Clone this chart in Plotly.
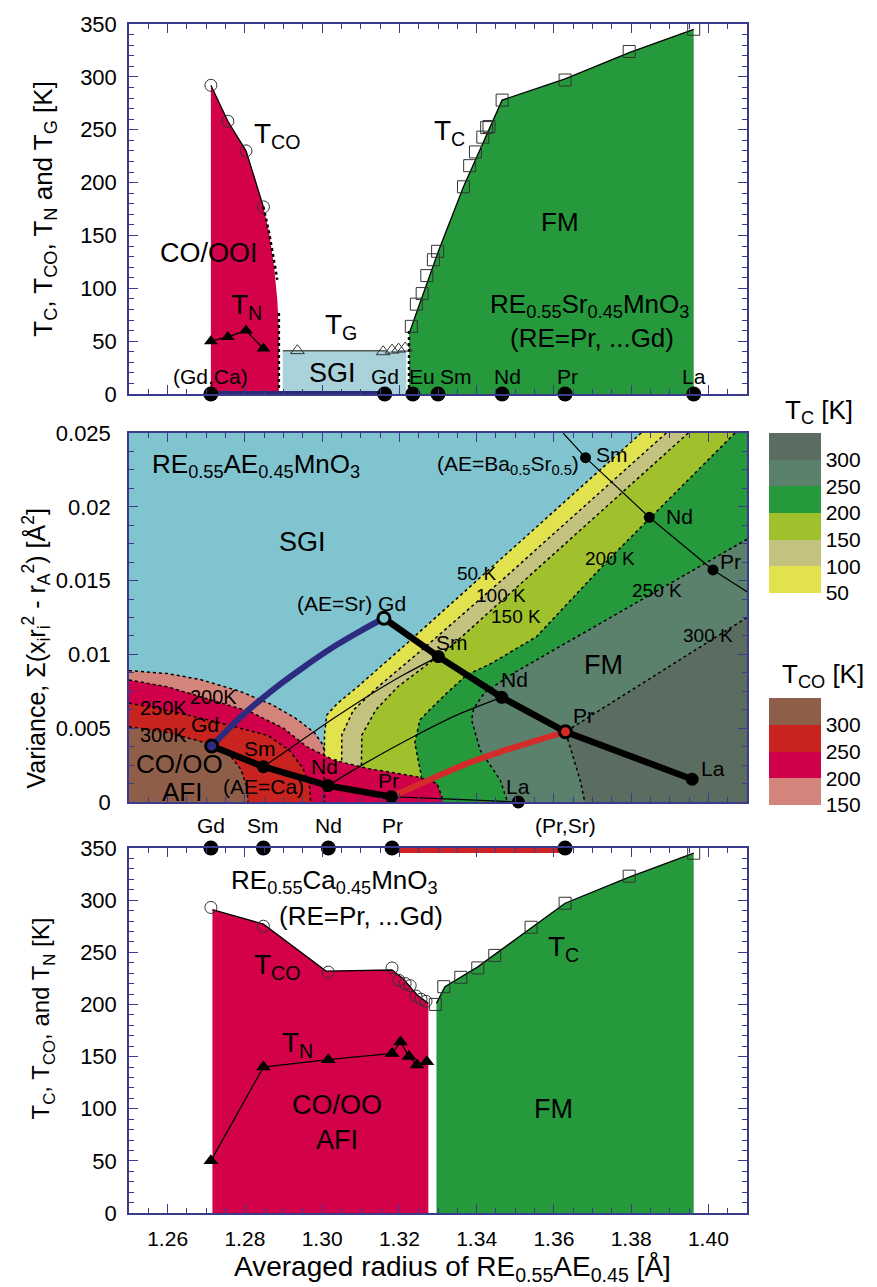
import plotly.graph_objects as go

FONT = "Liberation Sans, Arial, Helvetica, sans-serif"
X_MIN, X_MAX = 1.25, 1.41

# ---------------- TOP PANEL DATA (RE0.55Sr0.45MnO3, Gd/Ca) ----------------
top_tco_x = [1.2712, 1.2756, 1.2803, 1.2848]
top_tco_y = [292, 258, 230, 177]
top_tco_dot_x = [1.2848, 1.2863, 1.2876, 1.2884]
top_tco_dot_y = [177, 152, 125, 108]
top_tn_x = [1.2712, 1.2756, 1.2803, 1.2848]
top_tn_y = [50, 54, 60, 43]
top_tg_x = [1.2936, 1.3158, 1.3181, 1.3198, 1.3215]
top_tg_y = [41, 40, 41.5, 42.5, 43.5]
top_tc_x = [1.3231, 1.3244, 1.3259, 1.3271, 1.3288, 1.3299, 1.3366, 1.3382,
            1.3397, 1.3416, 1.3426, 1.3432, 1.3466, 1.3629, 1.3795, 1.3962]
top_tc_y = [64, 85, 95, 112, 127, 135, 196, 216, 229, 243, 252, 253, 278, 297, 324, 345]
top_tc_line_x = [1.3225, 1.3300, 1.3366, 1.3466, 1.3629, 1.3795, 1.3962]
top_tc_line_y = [57, 134, 196, 278, 298, 323, 345]
top_co_fill_x = [1.2712, 1.2712, 1.2756, 1.2803, 1.2848, 1.2863, 1.2876, 1.2884, 1.2888, 1.2888]
top_co_fill_y = [0, 292, 258, 230, 177, 152, 120, 89, 60, 0]
top_sgi_x = [1.2898, 1.2898, 1.3218, 1.3218]
top_sgi_y = [0, 41, 41, 0]
top_tg_line_x = [1.2898, 1.3165]
top_tg_line_y = [41, 41]
top_co_edge_x = [1.2888, 1.2888]
top_co_edge_y = [0, 78]
top_fm_edge_x = [1.3225, 1.3225]
top_fm_edge_y = [0, 62]
top_ref_x = [1.2712, 1.3162, 1.3235, 1.3300, 1.3466, 1.3629, 1.3962]
top_ref_lab = ["(Gd,Ca)", "Gd", "Eu", "Sm", "Nd", "Pr", "La"]
top_ref_lab_x = [1.2712, 1.3162, 1.3259, 1.3347, 1.3479, 1.3635, 1.3962]
top_sgi_bar_x = [1.2712, 1.3162]

# ---------------- MIDDLE PANEL DATA (variance map) ----------------
sr_x = [1.3160, 1.3301, 1.3465, 1.3630, 1.3958]
sr_v = [0.01245, 0.00985, 0.00709, 0.00476, 0.00154]
ca_x = [1.2714, 1.2848, 1.3015, 1.3179]
ca_v = [0.00379, 0.00239, 0.00111, 0.00036]
ca_la_x = [1.3179, 1.3508]
ca_la_v = [0.00036, 0.0]
basr_x = [1.3682, 1.3847, 1.4012]
basr_v = [0.02333, 0.01929, 0.01572]
basr_line_x = [1.3624, 1.3682, 1.3847, 1.4012, 1.4100]
basr_line_v = [0.0250, 0.02333, 0.01929, 0.01572, 0.01425]
gd_mix_x = [1.2714, 1.2790, 1.2870, 1.2950, 1.3035, 1.3100, 1.3160]
gd_mix_v = [0.00379, 0.00578, 0.00755, 0.00910, 0.01060, 0.01160, 0.01245]
pr_mix_x = [1.3179, 1.3230, 1.3290, 1.3370, 1.3461, 1.3550, 1.3630]
pr_mix_v = [0.00036, 0.00095, 0.00165, 0.00255, 0.00340, 0.00412, 0.00476]
sm_mix_x = [1.2848, 1.2940, 1.3029, 1.3120, 1.3210, 1.3301]
sm_mix_v = [0.00239, 0.00405, 0.00565, 0.00720, 0.00860, 0.00985]
nd_mix_x = [1.3015, 1.3110, 1.3236, 1.3350, 1.3465]
nd_mix_v = [0.00111, 0.00260, 0.00442, 0.00590, 0.00709]

# T_C iso-lines (each listed from the top/right edge downwards)
tc_line_x = [
    [1.3826, 1.3405, 1.3208, 1.3092, 1.3040, 1.3012, 1.3006, 1.3006],
    [1.3891, 1.3468, 1.3266, 1.3145, 1.3081, 1.3051, 1.3050],
    [1.3948, 1.3527, 1.3331, 1.3196, 1.3139, 1.3103, 1.3100],
    [1.4069, 1.3745, 1.3555, 1.3439, 1.3374, 1.3323, 1.3278, 1.3253, 1.3240, 1.3255, 1.3265],
    [1.4100, 1.3867, 1.3700, 1.3500, 1.3420, 1.3392, 1.3387, 1.3409, 1.3461, 1.3480],
    [1.4100, 1.3630, 1.3668, 1.3680],
]
tc_line_v = [
    [0.0250, 0.01509, 0.01048, 0.00781, 0.00669, 0.00589, 0.00454, 0.0],
    [0.0250, 0.01509, 0.01048, 0.00781, 0.00623, 0.00454, 0.0],
    [0.0250, 0.01509, 0.01048, 0.00781, 0.00624, 0.00454, 0.0],
    [0.0250, 0.01651, 0.01120, 0.00940, 0.00860, 0.00738, 0.00623, 0.00556, 0.00400, 0.00200, 0.0],
    [0.0178, 0.01429, 0.01180, 0.00880, 0.00740, 0.00630, 0.00556, 0.00352, 0.00149, 0.0],
    [0.0125, 0.00476, 0.00149, 0.0],
]
tc_colors = ["#e2e14e", "#c4c27f", "#a1c12c", "#25993c", "#5b806c", "#5b6c61"]
tc_lab = ["50 K", "100 K", "150 K", "200 K", "250 K", "300 K"]
tc_lab_x = [1.3400, 1.3462, 1.3502, 1.3745, 1.3867, 1.4000]
tc_lab_v = [0.01545, 0.01402, 0.01258, 0.01651, 0.01436, 0.01131]

# T_CO iso-lines (from the left edge down to the bottom axis)
co_line_x = [
    [1.2500, 1.2600, 1.2684, 1.2787, 1.2870, 1.2930, 1.2980, 1.3004, 1.3006],
    [1.2500, 1.2600, 1.2684, 1.2813, 1.2900, 1.2960, 1.3029, 1.3115, 1.3245, 1.3297, 1.3310, 1.3312],
    [1.2500, 1.2600, 1.2700, 1.2790, 1.2860, 1.2915, 1.2950, 1.2968, 1.2970],
    [1.2500, 1.2600, 1.2700, 1.2760, 1.2790, 1.2805, 1.2808],
]
co_line_v = [
    [0.0089, 0.0087, 0.0083, 0.0075, 0.0066, 0.0057, 0.0047, 0.0038, 0.0],
    [0.00827, 0.0078, 0.00714, 0.00612, 0.0050, 0.00375, 0.00285, 0.00228, 0.00171, 0.00127, 0.00036, 0.0],
    [0.0067, 0.0062, 0.0056, 0.0050, 0.0045, 0.0035, 0.0023, 0.0010, 0.0],
    [0.0051, 0.0047, 0.0040, 0.0032, 0.0022, 0.0010, 0.0],
]
co_colors = ["#d4857b", "#cf0049", "#c8231f", "#8f5e49"]
co_lab = ["200K", "250K", "300K"]
co_lab_x = [1.2718, 1.2589, 1.2589]
co_lab_v = [0.00713, 0.00635, 0.00454]

# ---------------- BOTTOM PANEL DATA (RE0.55Ca0.45MnO3) ----------------
bot_tco_x = [1.2712, 1.2848, 1.3016, 1.3181, 1.3199, 1.3215, 1.3228, 1.3243, 1.3256, 1.3269]
bot_tco_y = [293, 275, 231, 235, 223, 220, 218, 208, 205, 203]
bot_tco_line_x = [1.2716, 1.2848, 1.3010, 1.3181, 1.3209, 1.3246, 1.3275]
bot_tco_line_y = [291, 277, 232, 233, 225, 209, 201]
bot_tn_x = [1.2712, 1.2848, 1.3016, 1.3181, 1.3203, 1.3225, 1.3246, 1.3271]
bot_tn_y = [50, 140, 147, 153, 164, 150, 142, 145]
bot_tc_x = [1.3293, 1.3315, 1.3359, 1.3403, 1.3447, 1.3541, 1.3629, 1.3795, 1.3962]
bot_tc_y = [200, 217, 226, 235, 247, 274, 297, 323, 345]
bot_tc_line_x = [1.3296, 1.3318, 1.3403, 1.3447, 1.3541, 1.3629, 1.3795, 1.3962]
bot_tc_line_y = [201, 217, 236, 248, 273, 297, 322, 345]
bot_ref_x = [1.2712, 1.2848, 1.3016, 1.3181, 1.3629]
bot_ref_lab = ["Gd", "Sm", "Nd", "Pr", "(Pr,Sr)"]
bot_sr_bar_x = [1.3181, 1.3629]

# colour bars
cb_tc_vals = [50, 100, 150, 200, 250, 300, 350]
cb_co_vals = [150, 200, 250, 300, 350]

fig = go.Figure()

def add(x, y, ax, **kw):
    kw.setdefault("showlegend", False)
    kw.setdefault("hoverinfo", "skip")
    fig.add_trace(go.Scatter(x=x, y=y, xaxis=ax[0], yaxis=ax[1], **kw))

def fill(x, y, ax, color):
    add(x, y, ax, mode="lines", fill="toself", fillcolor=color, line=dict(width=0, color=color))

TOP, MID, BOT = ("x", "y"), ("x2", "y2"), ("x3", "y3")

# ---------- top panel ----------
fill(top_co_fill_x, top_co_fill_y, TOP, "#d3004a")
fill(top_sgi_x, top_sgi_y, TOP, "#a9d2da")
fill([top_tc_line_x[0]] + top_tc_line_x + [top_tc_line_x[-1]], [0] + top_tc_line_y + [0], TOP, "#25993c")
add(top_tg_line_x, top_tg_line_y, TOP, mode="lines", line=dict(color="#555555", width=1.5))
add(top_tco_x, top_tco_y, TOP, mode="lines", line=dict(color="black", width=1.3))
add(top_tco_dot_x, top_tco_dot_y, TOP, mode="lines", line=dict(color="black", width=2.5, dash="dot"))
add(top_co_edge_x, top_co_edge_y, TOP, mode="lines", line=dict(color="black", width=2.5, dash="dot"))
add(top_fm_edge_x, top_fm_edge_y, TOP, mode="lines", line=dict(color="black", width=2.5, dash="dot"))
add(top_tc_line_x, top_tc_line_y, TOP, mode="lines", line=dict(color="black", width=1.3))
add(top_tn_x, top_tn_y, TOP, mode="lines+markers", line=dict(color="black", width=1.3),
    marker=dict(symbol="triangle-up", size=12, color="black"))
add(top_tco_x, top_tco_y, TOP, mode="markers",
    marker=dict(symbol="circle-open", size=12, color="#333333", line=dict(width=1)))
add(top_tg_x, top_tg_y, TOP, mode="markers",
    marker=dict(symbol="triangle-up-open", size=12, color="#333333", line=dict(width=1)))
add(top_tc_x, top_tc_y, TOP, mode="markers", cliponaxis=False,
    marker=dict(symbol="square-open", size=12, color="#333333", line=dict(width=1)))
add(top_sgi_bar_x, [0, 0], TOP, mode="lines", cliponaxis=False, line=dict(color="#2b2a78", width=6))
add(top_ref_x, [0] * len(top_ref_x), TOP, mode="markers", cliponaxis=False,
    marker=dict(size=15, color="black"))

# ---------- middle panel ----------
for lx, lv, col in zip(tc_line_x, tc_line_v, tc_colors):
    fill(lx + [X_MAX, X_MAX], lv + [0.0, lv[0]], MID, col)
for lx, lv in zip(tc_line_x, tc_line_v):
    add(lx, lv, MID, mode="lines", line=dict(color="black", width=1.5, dash="dot"))
for lx, lv, col in zip(co_line_x, co_line_v, co_colors):
    fill([X_MIN] + lx + [X_MIN], [0.0] + lv + [0.0], MID, col)
for lx, lv in zip(co_line_x, co_line_v):
    add(lx, lv, MID, mode="lines", line=dict(color="black", width=1.5, dash="dot"))
add(sm_mix_x, sm_mix_v, MID, mode="lines", line=dict(color="black", width=1.2, shape="spline"))
add(nd_mix_x, nd_mix_v, MID, mode="lines", line=dict(color="black", width=1.2, shape="spline"))
add(ca_la_x, ca_la_v, MID, mode="lines", cliponaxis=False, line=dict(color="black", width=1.2))
add(basr_line_x, basr_line_v, MID, mode="lines", line=dict(color="black", width=1.2))
add(gd_mix_x, gd_mix_v, MID, mode="lines", line=dict(color="#2d2b80", width=6, shape="spline"))
add(pr_mix_x, pr_mix_v, MID, mode="lines", line=dict(color="#d42a2a", width=6, shape="spline"))
add(sr_x, sr_v, MID, mode="lines", line=dict(color="black", width=6.5))
add(ca_x, ca_v, MID, mode="lines", line=dict(color="black", width=6.5))
add(sr_x[1:3] + sr_x[4:], sr_v[1:3] + sr_v[4:], MID, mode="markers", marker=dict(size=13, color="black"))
add([sr_x[0]], [sr_v[0]], MID, mode="markers",
    marker=dict(size=12, color="#80c4cf", line=dict(color="black", width=3)))
add([sr_x[3]], [sr_v[3]], MID, mode="markers",
    marker=dict(size=12, color="#d42a2a", line=dict(color="black", width=3)))
add(ca_x[1:], ca_v[1:], MID, mode="markers", marker=dict(size=13, color="black"))
add([ca_x[0]], [ca_v[0]], MID, mode="markers",
    marker=dict(size=12, color="#2d2b80", line=dict(color="black", width=3)))
add([ca_la_x[1]], [ca_la_v[1]], MID, mode="markers", cliponaxis=False, marker=dict(size=13, color="black"))
add(basr_x, basr_v, MID, mode="markers", marker=dict(size=11, color="black"))

# ---------- bottom panel ----------
fill([bot_tco_line_x[0]] + bot_tco_line_x + [bot_tco_line_x[-1]], [0] + bot_tco_line_y + [0], BOT, "#d3004a")
fill([bot_tc_line_x[0]] + bot_tc_line_x + [bot_tc_line_x[-1]], [0] + bot_tc_line_y + [0], BOT, "#25993c")
add(bot_tco_line_x, bot_tco_line_y, BOT, mode="lines", line=dict(color="black", width=1.3))
add(bot_tc_line_x, bot_tc_line_y, BOT, mode="lines", line=dict(color="black", width=1.3))
add(bot_tn_x[:7], bot_tn_y[:7], BOT, mode="lines", line=dict(color="black", width=1.3))
add(bot_tn_x, bot_tn_y, BOT, mode="markers", marker=dict(symbol="triangle-up", size=13, color="black"))
add(bot_tco_x, bot_tco_y, BOT, mode="markers",
    marker=dict(symbol="circle-open", size=12, color="#333333", line=dict(width=1)))
add(bot_tc_x, bot_tc_y, BOT, mode="markers", cliponaxis=False,
    marker=dict(symbol="square-open", size=12, color="#333333", line=dict(width=1)))
add(bot_sr_bar_x, [348, 348], BOT, mode="lines", cliponaxis=False, line=dict(color="#cc2424", width=6))
add(bot_ref_x, [350] * len(bot_ref_x), BOT, mode="markers", cliponaxis=False,
    marker=dict(size=15, color="black"))

# ---------- colour bars ----------
def steps(colors):
    n = len(colors)
    cs = []
    for i, c in enumerate(colors):
        cs.append([i / n, c])
        cs.append([(i + 1) / n, c])
    return cs

def cbar(vals, colors, ycen, length, ax):
    add([2.0], [1.0e6], ax, mode="markers",
        marker=dict(color=[vals[0]], cmin=vals[0], cmax=vals[-1], colorscale=steps(colors), showscale=True,
                    colorbar=dict(x=1.0356, xanchor="left", y=ycen, yanchor="middle", len=length,
                                  lenmode="pixels", thickness=52, thicknessmode="pixels",
                                  tickvals=vals[:-1], ticktext=[str(v) for v in vals[:-1]], ticks="",
                                  outlinewidth=0, xpad=0, ypad=0,
                                  tickfont=dict(size=21, family=FONT, color="black"))))

cbar(cb_tc_vals, tc_colors, 0.5887, 160, MID)
cbar(cb_co_vals, co_colors, 0.3881, 107, BOT)

# ---------- annotations ----------
anns = []
def ann(text, x, y, ax, size=20, **kw):
    d = dict(text=text, x=x, y=y, xref=ax[0], yref=ax[1], showarrow=False,
             xanchor="center", yanchor="middle",
             font=dict(size=size, family=FONT, color="black"))
    d.update(kw)
    anns.append(d)

# top
ann("T<sub>CO</sub>", 1.2885, 245, TOP, 28)
ann("T<sub>C</sub>", 1.3330, 247, TOP, 28)
ann("FM", 1.3617, 163, TOP, 26)
ann("CO/OOI", 1.2706, 133, TOP, 27)
ann("T<sub>N</sub>", 1.2805, 83, TOP, 28)
ann("T<sub>G</sub>", 1.3050, 64, TOP, 28)
ann("SGI", 1.3026, 20, TOP, 27)
ann("RE<sub>0.55</sub>Sr<sub>0.45</sub>MnO<sub>3</sub>", 1.3692, 84, TOP, 26)
ann("(RE=Pr, ...Gd)", 1.3699, 53, TOP, 26)
for lx, lt in zip(top_ref_lab_x, top_ref_lab):
    ann(lt, lx, 17, TOP, 21)

# middle
ann("RE<sub>0.55</sub>AE<sub>0.45</sub>MnO<sub>3</sub>", 1.2554, 0.0228, MID, 26, xanchor="left")
ann("(AE=Ba<sub>0.5</sub>Sr<sub>0.5</sub>)", 1.3480, 0.0228, MID, 21)
ann("SGI", 1.2948, 0.01764, MID, 27)
ann("(AE=Sr) Gd", 1.3075, 0.01346, MID, 21)
ann("FM", 1.3728, 0.00928, MID, 27)
for t, lx, lv in zip(tc_lab, tc_lab_x, tc_lab_v):
    ann(t, lx, lv, MID, 19)
for t, lx, lv in zip(co_lab, co_lab_x, co_lab_v):
    ann(t, lx, lv, MID, 20)
ann("Sm", 1.3335, 0.0108, MID, 21)
ann("Nd", 1.3497, 0.00827, MID, 21)
ann("Pr", 1.3677, 0.00583, MID, 21)
ann("La", 1.4011, 0.00228, MID, 21)
ann("Sm", 1.3750, 0.02351, MID, 21)
ann("Nd", 1.3924, 0.01933, MID, 21)
ann("Pr", 1.4058, 0.01628, MID, 21)
ann("Gd", 1.2697, 0.00522, MID, 21)
ann("Sm", 1.2839, 0.00364, MID, 21)
ann("Nd", 1.3007, 0.00239, MID, 21)
ann("Pr", 1.3171, 0.00149, MID, 21)
ann("La", 1.3508, 0.00104, MID, 21)
ann("CO/OO", 1.2632, 0.00255, MID, 26)
ann("AFI", 1.2636, 0.00068, MID, 26)
ann("(AE=Ca)", 1.2848, 0.00104, MID, 21)

# bottom
ann("RE<sub>0.55</sub>Ca<sub>0.45</sub>MnO<sub>3</sub>", 1.3033, 318, BOT, 26)
ann("(RE=Pr, ...Gd)", 1.3101, 285, BOT, 26)
ann("T<sub>CO</sub>", 1.2885, 236, BOT, 28)
ann("T<sub>N</sub>", 1.2935, 162, BOT, 28)
ann("CO/OO<br>AFI", 1.3038, 87, BOT, 27)
ann("FM", 1.3598, 100, BOT, 27)
ann("T<sub>C</sub>", 1.3625, 254, BOT, 28)
for lx, lt in zip(bot_ref_x, bot_ref_lab):
    ann(lt, lx, 1.063, ("x3", "y3 domain"), 21)

# axis titles & colour bar titles (paper coords)
P = ("paper", "paper")
ann("T<sub>C</sub>, T<sub>CO</sub>, T<sub>N</sub> and T<sub>G</sub> [K]", -0.138, 0.8444, P, 26, textangle=-90)
ann("Variance, Σ(x<sub>i</sub>r<sub>i</sub><sup>2</sup> - r<sub>A</sub><sup>2</sup>) [Å<sup>2</sup>]",
    -0.150, 0.475, P, 25, textangle=-90)
ann("T<sub>C</sub>, T<sub>CO</sub>, and T<sub>N</sub> [K]", -0.140, 0.164, P, 24, textangle=-90)
ann("Averaged radius of RE<sub>0.55</sub>AE<sub>0.45</sub> [Å]", 0.5227, -0.047, P, 28)
ann("T<sub>C</sub> [K]", 1.1165, 0.6745, P, 26)
ann("T<sub>CO</sub> [K]", 1.1230, 0.4520, P, 26)

AXC = "#3b3b8c"
def xax(anchor, labels):
    return dict(range=[X_MIN, X_MAX], showline=True, linecolor=AXC, linewidth=1.5, mirror="ticks",
                ticks="inside", ticklen=9, tickcolor=AXC, tickwidth=1.2, showgrid=False, zeroline=False,
                tickmode="array", tickvals=[1.26, 1.28, 1.30, 1.32, 1.34, 1.36, 1.38, 1.40],
                ticktext=["1.26", "1.28", "1.30", "1.32", "1.34", "1.36", "1.38", "1.40"],
                showticklabels=labels, anchor=anchor,
                tickfont=dict(size=21, family=FONT, color="black"), ticklabelstandoff=6,
                minor=dict(ticks="inside", ticklen=5, tickcolor=AXC, tickwidth=1.2, dtick=0.005, tick0=1.25,
                           tickmode="linear"))

def yax(domain, rng, mdtick, vals, texts, standoff):
    return dict(domain=domain, range=rng, showline=True, linecolor=AXC, linewidth=1.5, mirror="ticks",
                ticks="inside", ticklen=9, tickcolor=AXC, tickwidth=1.2, showgrid=False, zeroline=False,
                tickmode="array", tickvals=vals, ticktext=texts,
                tickfont=dict(size=22, family=FONT, color="black"), ticklabelstandoff=standoff,
                minor=dict(ticks="inside", ticklen=5, tickcolor=AXC, tickwidth=1.2, dtick=mdtick, tick0=0,
                           tickmode="linear"))

tvals = [0, 50, 100, 150, 200, 250, 300, 350]
ttext = [str(v) for v in tvals]
vvals = [0, 0.005, 0.01, 0.015, 0.02, 0.025]
vtext = ["0", "0.005", "0.01", "0.015", "0.02", "0.025"]

fig.update_layout(
    width=877, height=1287,
    margin=dict(l=129, r=130, t=24, b=74, autoexpand=False),
    paper_bgcolor="white", plot_bgcolor="white",
    font=dict(family=FONT, color="black"),
    xaxis=xax("y", False),
    xaxis2=xax("y2", False),
    xaxis3=xax("y3", True),
    yaxis=yax([0.68881, 1.0], [0, 350], 10, tvals, ttext, 6),
    yaxis2=yax([0.34567, 0.65601], [0, 0.025], 0.00125, vvals, vtext, 12),
    yaxis3=yax([0.0, 0.30698], [0, 350], 10, tvals, ttext, 6),
    annotations=anns,
    shapes=[dict(type="rect", xref="x2 domain", yref="y2 domain", x0=0, x1=1, y0=0, y1=1,
                 fillcolor="#80c4cf", line=dict(width=0), layer="below")],
)

fig.write_html("out.html", config={"displayModeBar": False},
               post_script="document.body.style.margin='0px';")
